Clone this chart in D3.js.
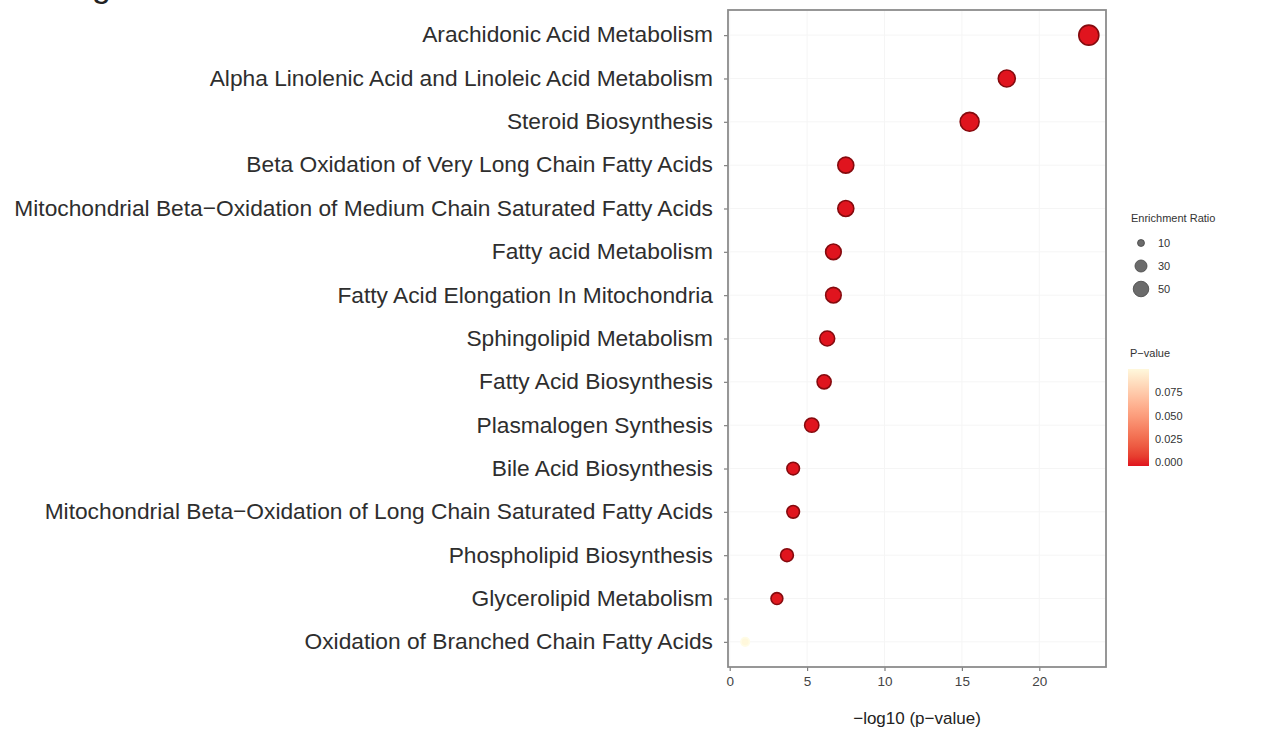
<!DOCTYPE html>
<html>
<head>
<meta charset="utf-8">
<script src="https://cdn.jsdelivr.net/npm/d3@7"></script>
<style>
  body { margin: 0; background: #fff; }
  text { font-family: "Liberation Sans", Arial, Helvetica, sans-serif; }
</style>
</head>
<body>
<div id="chart"></div>
<script>
// pathway names, top to bottom
var pathways = [
  "Arachidonic Acid Metabolism",
  "Alpha Linolenic Acid and Linoleic Acid Metabolism",
  "Steroid Biosynthesis",
  "Beta Oxidation of Very Long Chain Fatty Acids",
  "Mitochondrial Beta\u2212Oxidation of Medium Chain Saturated Fatty Acids",
  "Fatty acid Metabolism",
  "Fatty Acid Elongation In Mitochondria",
  "Sphingolipid Metabolism",
  "Fatty Acid Biosynthesis",
  "Plasmalogen Synthesis",
  "Bile Acid Biosynthesis",
  "Mitochondrial Beta\u2212Oxidation of Long Chain Saturated Fatty Acids",
  "Phospholipid Biosynthesis",
  "Glycerolipid Metabolism",
  "Oxidation of Branched Chain Fatty Acids"
];
var logP = [23.2, 17.9, 15.5, 7.5, 7.5, 6.7, 6.7, 6.3, 6.1, 5.3, 4.1, 4.1, 3.7, 3.05, 1.0];
var pValue = [6e-24, 1.3e-18, 3e-16, 3e-8, 3e-8, 2e-7, 2e-7, 5e-7, 8e-7, 5e-6, 8e-5, 8e-5, 2e-4, 9e-4, 0.1];
var enrichment = [83, 60, 74, 53, 53, 50, 50, 46, 41, 42, 33, 33, 34, 29, 15];

var xTicks = [0, 5, 10, 15, 20];
var sizeLegend = [10, 30, 50];
var pTicks = [0, 0.025, 0.05, 0.075];

var svgWidth = 1265;
var svgHeight = 731;

var panel = { left: 728, right: 1106, top: 10, bottom: 667 };

var svg = d3.select("#chart")
  .append("svg")
  .attr("width", svgWidth)
  .attr("height", svgHeight);

var data = pathways.map(function(d, i) {
  return { name: d, x: logP[i], p: pValue[i], er: enrichment[i] };
});

// scales
var xScale = d3.scaleLinear()
  .domain([-0.11, 24.31])
  .range([panel.left, panel.right]);

var yScale = d3.scalePoint()
  .domain(pathways)
  .range([panel.top, panel.bottom])
  .padding(0.58);

var rScale = d3.scaleSqrt()
  .domain([0, 100])
  .range([0, 11]);

var colorScale = d3.scaleLinear()
  .domain([0, 0.1])
  .range(["#e0141e", "#fff8dc"])
  .interpolate(d3.interpolateLab);

var strokeScale = d3.scaleLinear()
  .domain([0, 0.1])
  .range(["#850a0e", "#fffce6"]);

// cut-off panel letter at the very top
svg.append("text")
  .attr("x", 92)
  .attr("y", -3)
  .attr("font-size", 34)
  .attr("fill", "#222")
  .text("g");

// panel background grid (very faint)
var gridGroup = svg.append("g");
gridGroup.selectAll("line.vx")
  .data(xTicks)
  .enter()
  .append("line")
  .attr("x1", d => xScale(d))
  .attr("x2", d => xScale(d))
  .attr("y1", panel.top)
  .attr("y2", panel.bottom)
  .attr("stroke", "#f5f5f5")
  .attr("stroke-width", 1);

gridGroup.selectAll("line.hy")
  .data(pathways)
  .enter()
  .append("line")
  .attr("x1", panel.left)
  .attr("x2", panel.right)
  .attr("y1", d => yScale(d))
  .attr("y2", d => yScale(d))
  .attr("stroke", "#f5f5f5")
  .attr("stroke-width", 1);

// x axis
var xAxis = svg.append("g")
  .attr("transform", `translate(0, ${panel.bottom})`)
  .call(d3.axisBottom(xScale).tickValues(xTicks).tickSize(4).tickPadding(5));
xAxis.select(".domain").remove();
xAxis.selectAll("line").attr("stroke", "#7f7f7f").attr("stroke-width", 1.2);
xAxis.selectAll("text")
  .attr("font-size", 13.5)
  .attr("fill", "#444")
  .style("font-family", "Liberation Sans, Arial, sans-serif");

// y axis
var yAxis = svg.append("g")
  .attr("transform", `translate(${panel.left}, 0)`)
  .call(d3.axisLeft(yScale).tickSize(4).tickPadding(11));
yAxis.select(".domain").remove();
yAxis.selectAll("line").attr("stroke", "#7f7f7f").attr("stroke-width", 1.2);
var yLabels = yAxis.selectAll("text")
  .attr("fill", "#2e2e2e")
  .attr("font-size", 100)
  .attr("dy", "0.3em")
  .style("font-family", "Liberation Sans, Arial, sans-serif");

// fit the longest label between the left edge and the ticks
var longest = d3.max(yLabels.nodes(), n => n.getComputedTextLength());
yLabels.attr("font-size", 100 * 699 / longest);

// points
svg.append("g")
  .selectAll("circle")
  .data(data)
  .enter()
  .append("circle")
  .attr("cx", d => xScale(d.x))
  .attr("cy", d => yScale(d.name))
  .attr("r", d => rScale(d.er))
  .attr("fill", d => colorScale(d.p))
  .attr("stroke", d => strokeScale(d.p))
  .attr("stroke-width", 1.6);

// panel border
svg.append("rect")
  .attr("x", panel.left)
  .attr("y", panel.top)
  .attr("width", panel.right - panel.left)
  .attr("height", panel.bottom - panel.top)
  .attr("fill", "none")
  .attr("stroke", "#8c8c8c")
  .attr("stroke-width", 1.8);

// x axis title
svg.append("text")
  .attr("x", (panel.left + panel.right) / 2)
  .attr("y", 724)
  .attr("text-anchor", "middle")
  .attr("font-size", 17)
  .attr("fill", "#222")
  .text("\u2212log10 (p\u2212value)");

// size legend
var sizeLegendGroup = svg.append("g");
sizeLegendGroup.append("text")
  .attr("x", 1131)
  .attr("y", 222)
  .attr("font-size", 11)
  .attr("fill", "#333")
  .text("Enrichment Ratio");

var sizeY = d3.scalePoint().domain(sizeLegend).range([243, 289]);
sizeLegendGroup.selectAll("circle")
  .data(sizeLegend)
  .enter()
  .append("circle")
  .attr("cx", 1141)
  .attr("cy", d => sizeY(d))
  .attr("r", d => rScale(d))
  .attr("fill", "#6b6b6b")
  .attr("stroke", "#444")
  .attr("stroke-width", 0.8);

sizeLegendGroup.selectAll("text.lab")
  .data(sizeLegend)
  .enter()
  .append("text")
  .attr("x", 1158)
  .attr("y", d => sizeY(d) + 4)
  .attr("font-size", 11)
  .attr("fill", "#333")
  .text(d => d);

// colour bar legend
var barTop = 369, barBottom = 466, barLeft = 1128, barWidth = 21;
var pBar = d3.scaleLinear().domain([0, 0.1]).range([barBottom - 4, barTop]);

var defs = svg.append("defs");
var grad = defs.append("linearGradient")
  .attr("id", "pgrad")
  .attr("x1", 0).attr("x2", 0)
  .attr("y1", 1).attr("y2", 0);
d3.range(0, 1.01, 0.1).forEach(function(t) {
  grad.append("stop")
    .attr("offset", t)
    .attr("stop-color", colorScale(t * 0.1));
});

svg.append("text")
  .attr("x", 1130)
  .attr("y", 357)
  .attr("font-size", 11)
  .attr("fill", "#333")
  .text("P\u2212value");

svg.append("rect")
  .attr("x", barLeft)
  .attr("y", barTop)
  .attr("width", barWidth)
  .attr("height", barBottom - barTop)
  .attr("fill", "url(#pgrad)");

svg.append("g")
  .selectAll("text")
  .data(pTicks)
  .enter()
  .append("text")
  .attr("x", 1155)
  .attr("y", d => pBar(d) + 4)
  .attr("font-size", 11)
  .attr("fill", "#333")
  .text(d => d3.format(".3f")(d));
</script>
</body>
</html>
